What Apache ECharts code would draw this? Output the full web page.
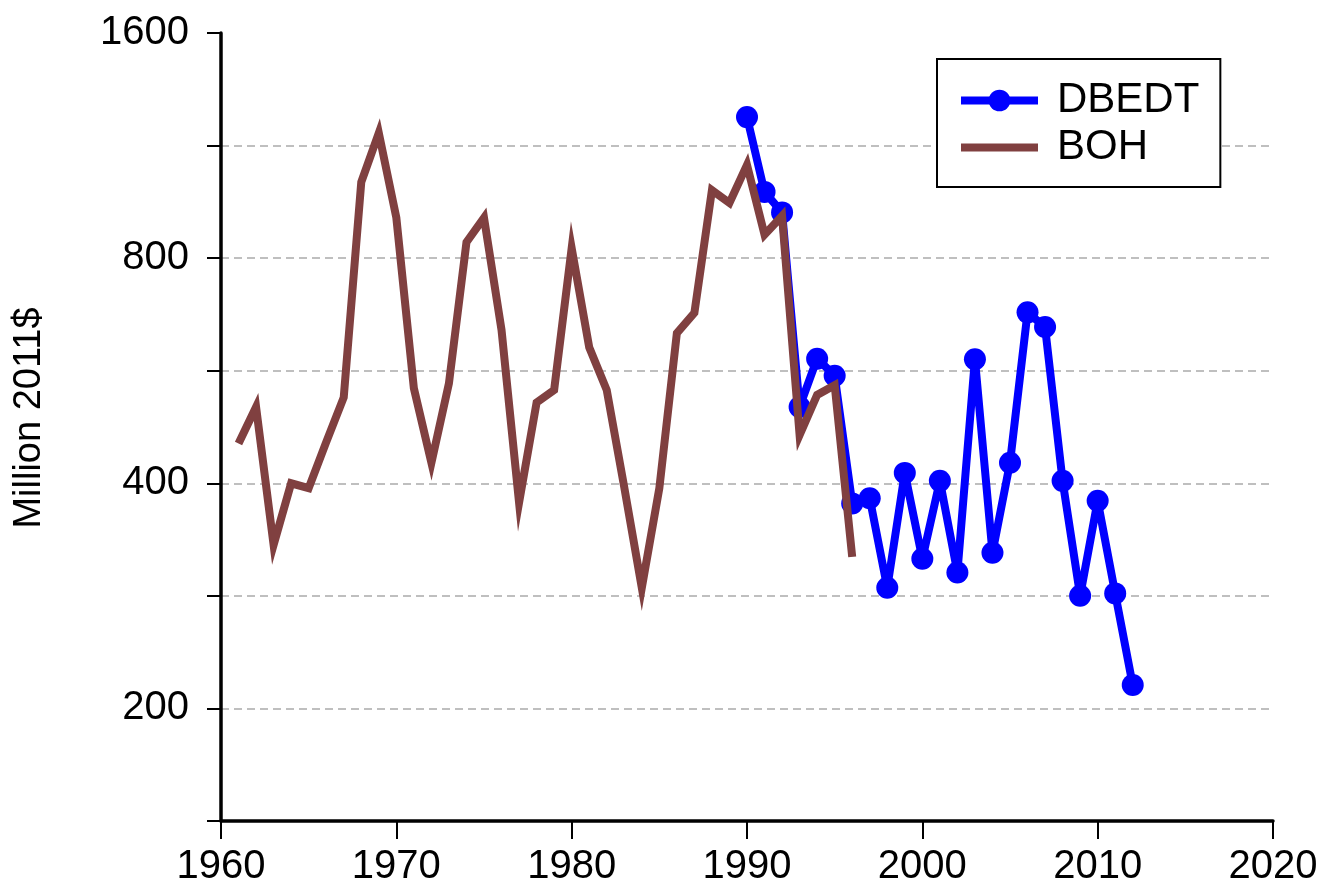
<!DOCTYPE html>
<html><head><meta charset="utf-8">
<script src="https://cdn.jsdelivr.net/npm/echarts@6/dist/echarts.min.js"></script>
<style>html,body{margin:0;padding:0;background:#fff}#c{width:1323px;height:888px}</style>
</head><body><div id="c"></div>
<script>
const bohYears = [1961,1962,1963,1964,1965,1966,1967,1968,1969,1970,1971,1972,1973,1974,1975,1976,1977,1978,1979,1980,1981,1982,1983,1984,1985,1986,1987,1988,1989,1990,1991,1992,1993,1994,1995,1996];
const bohValues = [452,506,331,400,394,454,521,1011,1176,906,536,426,544,840,906,641,377,513,533,825,608,533,395,290,394,635,676,986,948,1066,860,911,464,525,541,319];
const dbedtYears = [1990,1991,1992,1993,1994,1995,1996,1997,1998,1999,2000,2001,2002,2003,2004,2005,2006,2007,2008,2009,2010,2011,2012];
const dbedtValues = [1235,981,921,506,587,557,376,382,290,413,317,403,304,586,323,426,677,647,403,283,379,285,215];
const yTickLabels = [200,400,800,1600];
const xTicks = [1960,1970,1980,1990,2000,2010,2020];

// log scale: u = 2*log2(v/100) -> 1600:8, 800:6, 400:4, 200:2
const toU = v => 2*Math.log2(v/100);
const fromU = u => Math.round(100*Math.pow(2,u/2));
const pair = (ys, vs) => ys.map((y,i)=>[y, toU(vs[i])]);

const chart = echarts.init(document.getElementById('c'), null, {renderer:'canvas'});
const font = 'Liberation Sans, Arial, sans-serif';
chart.setOption({
  animation:false,
  backgroundColor:'#fff',
  grid:{left:221,right:50,top:33,bottom:67},
  xAxis:{type:'value',min:1960,max:2020,interval:10,
    axisLine:{lineStyle:{color:'#000',width:3.5}},
    axisTick:{show:true,length:18,lineStyle:{color:'#000',width:2}},
    axisLabel:{color:'#000',fontSize:40,fontFamily:font,margin:26,
      formatter:v=>xTicks.includes(v)?String(v):''},
    splitLine:{show:false}},
  yAxis:{type:'value',min:1,max:8,interval:1,
    name:'Million 2011$',nameLocation:'middle',nameGap:172,nameRotate:90,
    nameTextStyle:{color:'#000',fontSize:38,fontFamily:font,padding:[0,0,0,18]},
    axisLine:{show:true,lineStyle:{color:'#000',width:3.5}},
    axisTick:{show:true,length:14,lineStyle:{color:'#000',width:2}},
    axisLabel:{color:'#000',fontSize:40,fontFamily:font,margin:32,
      formatter:u=>{const v=fromU(u);return yTickLabels.includes(v)?String(v):'';}},
    splitLine:{show:true,showMinLine:false,showMaxLine:false,
      lineStyle:{color:'#aaa',width:1.5,type:[8,5]}}},
  legend:{left:937,top:59,orient:'vertical',
    backgroundColor:'#fff',borderColor:'#000',borderWidth:2,borderRadius:0,
    padding:[18,21,16,20],itemWidth:77,itemHeight:27,itemGap:0,
    textStyle:{color:'#000',fontSize:42,fontFamily:font,padding:[0,0,0,14],lineHeight:47},
    data:[
      {name:'DBEDT',lineStyle:{width:8,color:'#0000ff'},itemStyle:{color:'#0000ff'}},
      {name:'BOH',lineStyle:{width:8,color:'#804040'},itemStyle:{color:'#804040',opacity:0}}
    ]},
  series:[
    {name:'DBEDT',type:'line',data:pair(dbedtYears,dbedtValues),
      symbol:'circle',symbolSize:22,showSymbol:true,
      lineStyle:{color:'#0000ff',width:8},itemStyle:{color:'#0000ff'},z:2},
    {name:'BOH',type:'line',data:pair(bohYears,bohValues),
      symbol:'none',showSymbol:false,
      lineStyle:{color:'#804040',width:8,join:'miter'},itemStyle:{color:'#804040'},z:3}
  ]
});
</script></body></html>
